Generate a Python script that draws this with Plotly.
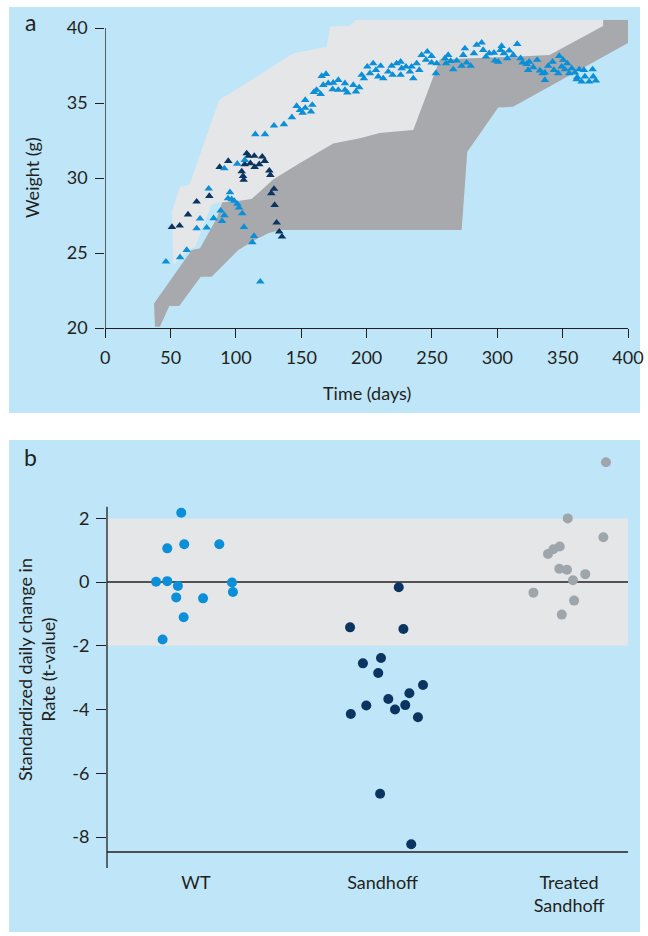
import plotly.graph_objects as go

# ---------------- Panel a data ----------------
wt_days = [46.4, 57.2, 62.3, 69.9, 72.5, 77.6, 79.1, 82.9, 88.3, 89.3, 91.1, 91.1, 95.4, 93.9, 96.7, 98.7,
           101, 102.3, 104.8, 106.1, 101, 106.7, 112.5, 113.8, 118.6, 114.8, 122.2, 129.1, 136.7, 142.8,
           146.4, 149, 151, 153, 153, 157.4, 158.4, 159.7, 161.7, 164.8, 165.6, 168.9, 166.8, 170.6, 174.4,
           174, 178.3, 178.3, 183.4, 183.4, 185.2, 189.8, 191.8, 194.3, 196.2, 197.9, 200.5, 202.5, 205,
           207.1, 208.9, 210.7, 212.7, 216.5, 219.1, 219.9, 222.9, 226, 226, 226.8, 230.1, 233.1, 234.4,
           235.7, 238.3, 240.3, 242.1, 245.4, 246.4, 249.7, 249.7, 253, 253.6, 259.9, 260.7, 262.4, 264.3,
           266.3, 268.9, 272.7, 273.9, 275.2, 276.5, 279.6, 282.1, 284.2, 288, 289.2, 291.3, 293.8, 297.4,
           298.2, 300.7, 302.5, 303.3, 305, 307.6, 309.1, 312.2, 315.2, 317.8, 319.3, 322.4, 324.4, 323.6,
           327.5, 330.5, 332.6, 334.7, 336.4, 336.4, 338.9, 342.3, 343.3, 346.6, 347.4, 349.2, 350.4, 351.7,
           353.5, 355, 356.9, 359.4, 361.1, 362.7, 364.5, 366.3, 367, 370.3, 372.9, 373.4, 375.4, 360.7]
wt_weight = [24.42, 24.71, 25.2, 26.64, 27.29, 26.69, 29.29, 27.31, 27.82, 27.13, 27.51, 30.64, 29.05, 28.64,
             28.58, 28.47, 28.27, 28.02, 27.64, 26.73, 30.95, 31.2, 25.71, 26.13, 23.09, 32.91, 32.91, 33.49,
             33.58, 34.05, 34.8, 34.53, 34.35, 35.2, 34.67, 34.42, 34.87, 35.73, 35.87, 35.6, 36.8, 36.93,
             36.2, 36.31, 36.35, 35.91, 36.53, 35.87, 36.31, 35.87, 35.69, 36.2, 35.76, 36.04, 36.87, 36.64,
             37.42, 36.98, 37.64, 37.2, 36.76, 37.47, 36.64, 37.09, 37.47, 36.87, 37.64, 37.75, 36.87, 37.31,
             37.42, 37.09, 37.42, 36.64, 37.64, 37.2, 38.2, 37.87, 38.42, 38.13, 37.69, 36.98, 37.64, 37.98,
             37.64, 38.2, 37.8, 37.24, 37.82, 37.47, 38.2, 38.64, 37.69, 37.47, 38.31, 38.87, 39.02, 38.53,
             38.09, 38.31, 38.35, 37.82, 37.75, 38.53, 38.8, 38.31, 37.98, 38.49, 38.2, 38.93, 37.98, 37.69,
             37.6, 37.75, 37.2, 37.38, 37.87, 37.16, 36.98, 36.53, 37.02, 37.47, 37.75, 37.2, 36.98, 38.13,
             37.42, 37.87, 37.24, 37.64, 36.98, 37.31, 37.02, 36.71, 37.24, 36.42, 37.2, 36.76, 36.42, 37.24,
             36.76, 36.49, 36.58]

sh_days = [51, 56.9, 63.3, 69.9, 79.6, 87.5, 94.1, 108.2, 109.7, 114, 120.1, 122, 111, 106.7, 117.8, 114.3,
           104.4, 105.4, 105.9, 125.5, 126.3, 129.1, 127, 129.6, 131.1, 133.1, 135.2]
sh_weight = [26.73, 26.82, 27.56, 28.42, 28.8, 30.73, 31.13, 31.64, 31.47, 31.47, 31.42, 31.13, 30.98, 30.91,
             30.91, 30.73, 30.44, 30.13, 29.87, 30.49, 30.2, 29.27, 28.98, 28.2, 27.02, 26.42, 26.09]

# reference ranges (shaded envelopes)
wt_range_days = [52, 51, 57.2, 64.3, 87.2, 143.8, 169.4, 172, 187, 192, 381, 381, 340, 317, 256, 235.7,
                 210, 195, 174.5, 149, 128.5, 112, 100.5, 89.6, 81.4, 68.6, 63.5, 52]
wt_range_weight = [24.2, 27.76, 29.42, 29.53, 35.2, 38.3, 38.75, 40.1, 40.13, 40.55, 40.55, 40.13, 38.2, 38.1,
                   37.9, 33.2, 33.0, 32.65, 32.3, 31.0, 29.9, 28.6, 28.45, 28.38, 28.27, 25.38, 25.24, 24.2]

sh_range_days = [37.3, 38, 41.8, 49, 56.6, 73, 81.4, 101.8, 114.5, 124.7, 133.7, 272.7, 277, 300.7, 312, 401,
                 401, 381, 381, 340, 317, 256, 235.7, 210, 195, 174.5, 149, 128.5, 112, 100.5, 89.6, 85.2,
                 72.5, 66.1, 37.3]
sh_range_weight = [21.64, 20.09, 20.09, 21.47, 21.47, 23.42, 23.42, 25.2, 25.87, 26.31, 26.53, 26.53, 31.75,
                   34.7, 34.75, 39.05, 40.55, 40.55, 40.13, 38.2, 38.1, 37.9, 33.2, 33.0, 32.65, 32.3, 31.0,
                   29.9, 28.6, 28.45, 28.38, 27.3, 25.31, 25.2, 21.64]

a_xticks = [0, 50, 100, 150, 200, 250, 300, 350, 400]
a_yticks = [20, 25, 30, 35, 40]

# ---------------- Panel b data ----------------
groups = ["WT", "Sandhoff", "Treated<br>Sandhoff"]
wt_pos = [-0.079, -0.154, -0.063, 0.125, -0.214, -0.154, -0.097, 0.193, -0.106, 0.038, 0.198, -0.066, -0.179]
wt_t = [2.18, 1.06, 1.19, 1.19, 0.01, 0.03, -0.12, -0.01, -0.48, -0.51, -0.31, -1.10, -1.80]
sh_pos = [1.087, 0.826, 1.112, 0.992, 0.895, 0.977, 1.217, 1.144, 1.031, 0.913, 1.122, 1.067, 0.83, 1.19,
          0.987, 1.154]
sh_t = [-0.16, -1.42, -1.47, -2.38, -2.55, -2.85, -3.23, -3.49, -3.67, -3.87, -3.86, -4.00, -4.14, -4.24,
        -6.64, -8.23]
tr_pos = [2.198, 1.993, 2.184, 1.95, 1.916, 1.887, 1.948, 1.989, 2.087, 2.021, 1.809, 2.027, 1.961]
tr_t = [3.76, 2.00, 1.41, 1.12, 1.03, 0.88, 0.42, 0.39, 0.25, 0.06, -0.33, -0.58, -1.02]

b_yticks = [2, 0, -2, -4, -6, -8]
b_yticktext = ["2", "0", "-2", "-4", "-6", "-8"]

# ---------------- Styles ----------------
BG = "#bee6f8"
LGRAY = "#e5e6e8"
DGRAY = "#a7a9ac"
BLUE = "#0a8fd8"
NAVY = "#0b3461"
TGRAY = "#9ea6ab"
TXT = "#231f20"
FONT = "Lato"

fig = go.Figure()

fig.add_trace(go.Scatter(x=wt_range_days, y=wt_range_weight, fill="toself", fillcolor=LGRAY,
                         mode="none", hoverinfo="skip", xaxis="x", yaxis="y"))
fig.add_trace(go.Scatter(x=sh_range_days, y=sh_range_weight, fill="toself", fillcolor=DGRAY,
                         mode="none", hoverinfo="skip", xaxis="x", yaxis="y"))
fig.add_trace(go.Scatter(x=sh_days, y=sh_weight, mode="markers", xaxis="x", yaxis="y",
                         marker=dict(symbol="triangle-up", size=7.5, color=NAVY, line=dict(width=0))))
fig.add_trace(go.Scatter(x=wt_days, y=wt_weight, mode="markers", xaxis="x", yaxis="y",
                         marker=dict(symbol="triangle-up", size=7.5, color=BLUE, line=dict(width=0))))

fig.add_trace(go.Scatter(x=wt_pos, y=wt_t, mode="markers", xaxis="x2", yaxis="y2",
                         marker=dict(size=10, color=BLUE, line=dict(width=0))))
fig.add_trace(go.Scatter(x=sh_pos, y=sh_t, mode="markers", xaxis="x2", yaxis="y2",
                         marker=dict(size=10, color=NAVY, line=dict(width=0))))
fig.add_trace(go.Scatter(x=tr_pos, y=tr_t, mode="markers", xaxis="x2", yaxis="y2",
                         marker=dict(size=10, color=TGRAY, line=dict(width=0))))

W, H = 648, 936
def px(x):
    return x / W
def py(y):
    return 1 - y / H

B_LO, B_HI, B_AXIS_TOP = -8.973, 4.0, 2.367

shapes = [
    dict(type="rect", xref="paper", yref="paper", x0=px(9), x1=px(640), y0=py(413), y1=py(7),
         fillcolor=BG, line=dict(width=0), layer="below"),
    dict(type="rect", xref="paper", yref="paper", x0=px(9), x1=px(640), y0=py(932), y1=py(440),
         fillcolor=BG, line=dict(width=0), layer="below"),
    # panel a y-axis line (20 to 40)
    dict(type="line", xref="x", yref="y", x0=0, x1=0, y0=20, y1=40, line=dict(color=TXT, width=1.3)),
    # panel b reference band and zero line
    dict(type="rect", xref="x2 domain", yref="y2", x0=0, x1=1, y0=-2, y1=2,
         fillcolor=LGRAY, line=dict(width=0), layer="below"),
    dict(type="line", xref="x2 domain", yref="y2", x0=0, x1=1, y0=0, y1=0,
         line=dict(color=TXT, width=1.5), layer="below"),
    # panel b axis lines
    dict(type="line", xref="x2 domain", yref="y2", x0=0, x1=1, y0=-8.47, y1=-8.47,
         line=dict(color=TXT, width=1.5)),
    dict(type="line", xref="x2 domain", yref="y2", x0=0, x1=0, y0=B_LO, y1=B_AXIS_TOP,
         line=dict(color=TXT, width=1.3)),
]

tickfont = dict(family=FONT, size=18, color=TXT)
def ann(text, x, y, size=18, angle=0):
    return dict(text=text, x=px(x), y=py(y), xref="paper", yref="paper", showarrow=False,
                xanchor="center", yanchor="middle", textangle=angle,
                font=dict(family=FONT, size=size, color=TXT))

annotations = [
    ann("a", 30, 22, 23),
    ann("b", 30, 457, 23),
    ann("Weight (g)", 32, 178, 18, -90),
    ann("Time (days)", 367, 393, 18),
    ann("Standardized daily change in<br>Rate (t-value)", 36, 670, 18, -90),
]

# panel b pixel scale: 31.86 px per unit, 0 at y=582.1
b_top_px = 868 - 31.86 * (B_HI - B_LO)

fig.update_layout(
    width=W, height=H, margin=dict(l=0, r=0, t=0, b=0, autoexpand=False),
    paper_bgcolor="white", plot_bgcolor="rgba(0,0,0,0)", showlegend=False,
    font=dict(family=FONT, color=TXT),
    shapes=shapes, annotations=annotations,
    xaxis=dict(domain=[px(105.3), px(628)], range=[0, 400], anchor="y", tickvals=a_xticks,
               showgrid=False, zeroline=False, showline=True, linecolor=TXT, linewidth=1.3,
               ticks="outside", ticklen=9, tickcolor=TXT, tickwidth=1.3, tickfont=tickfont,
               ticklabelstandoff=4, automargin=False),
    yaxis=dict(domain=[py(328), py(19.75)], range=[20, 40.55], anchor="x", tickvals=a_yticks,
               showgrid=False, zeroline=False, showline=False,
               ticks="outside", ticklen=9, tickcolor=TXT, tickwidth=1.3, tickfont=tickfont,
               ticklabelstandoff=4, automargin=False),
    xaxis2=dict(domain=[px(107), px(628)], range=[-0.477, 2.316], anchor="y2",
                tickvals=[0, 1, 2], ticktext=groups, showgrid=False, zeroline=False, showline=False,
                ticks="", tickfont=tickfont, ticklabelstandoff=2, automargin=False),
    yaxis2=dict(domain=[py(868), py(b_top_px)], range=[B_LO, B_HI], anchor="x2",
                tickvals=b_yticks, ticktext=b_yticktext,
                showgrid=False, zeroline=False, showline=False,
                ticks="outside", ticklen=10, tickcolor=TXT, tickwidth=1.3, tickfont=tickfont,
                ticklabelstandoff=3, automargin=False),
)

fig.write_html("out.html", config={"displayModeBar": False},
               post_script="document.body.style.margin='0';document.body.style.overflow='hidden';")
